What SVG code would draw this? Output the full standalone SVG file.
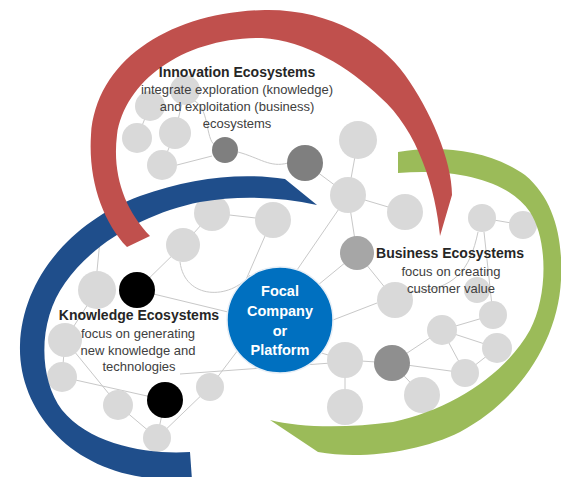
<svg xmlns="http://www.w3.org/2000/svg" width="561" height="477" viewBox="0 0 561 477">
<style>
.ln{fill:none;stroke:#c8c8c8;stroke-width:1}
.lg{fill:#d9d9d9}
.md{fill:#a6a6a6}
.dk{fill:#7f7f7f}
.md2{fill:#8f8f8f}
.bk{fill:#000}
.t{font-family:"Liberation Sans",Arial,sans-serif;text-anchor:middle}
.h{font-size:14px;font-weight:bold;fill:#262626}
.s{font-size:13px;fill:#404040}
.f{font-size:14.5px;font-weight:bold;fill:#fff}
</style>
<rect width="561" height="477" fill="#fff"/>
<g id="connectors">
<line class="ln" x1="150" y1="106" x2="137" y2="138"/>
<line class="ln" x1="185" y1="90" x2="175" y2="133"/>
<line class="ln" x1="175" y1="133" x2="162" y2="165"/>
<path class="ln" d="M192,100 C210,105 205,140 215,145"/>
<line class="ln" x1="177" y1="165" x2="212" y2="156"/>
<path class="ln" d="M238,152 C260,158 270,168 288,163"/>
<line class="ln" x1="305" y1="163" x2="348" y2="195"/>
<line class="ln" x1="358" y1="140" x2="348" y2="195"/>
<line class="ln" x1="348" y1="195" x2="405" y2="212"/>
<line class="ln" x1="348" y1="195" x2="357" y2="253"/>
<line class="ln" x1="343" y1="203" x2="297" y2="270"/>
<line class="ln" x1="273" y1="220" x2="212" y2="213"/>
<line class="ln" x1="212" y1="213" x2="183" y2="245"/>
<line class="ln" x1="265" y1="236" x2="245" y2="282"/>
<path class="ln" d="M180,262 C185,300 230,300 250,275"/>
<line class="ln" x1="183" y1="245" x2="137" y2="290"/>
<line class="ln" x1="137" y1="290" x2="228" y2="312"/>
<line class="ln" x1="97" y1="290" x2="65" y2="340"/>
<line class="ln" x1="97" y1="271" x2="100" y2="240"/>
<line class="ln" x1="65" y1="340" x2="62" y2="377"/>
<line class="ln" x1="65" y1="340" x2="118" y2="405"/>
<line class="ln" x1="62" y1="377" x2="165" y2="400"/>
<line class="ln" x1="118" y1="405" x2="157" y2="438"/>
<line class="ln" x1="165" y1="400" x2="157" y2="438"/>
<line class="ln" x1="157" y1="438" x2="210" y2="387"/>
<line class="ln" x1="210" y1="387" x2="238" y2="350"/>
<line class="ln" x1="180" y1="374" x2="345" y2="362"/>
<line class="ln" x1="357" y1="253" x2="395" y2="300"/>
<line class="ln" x1="357" y1="253" x2="318" y2="285"/>
<line class="ln" x1="333" y1="320" x2="377" y2="303"/>
<path class="ln" d="M410,292 C455,290 470,270 478,232"/>
<line class="ln" x1="482" y1="218" x2="523" y2="225"/>
<line class="ln" x1="484" y1="232" x2="493" y2="315"/>
<line class="ln" x1="442" y1="330" x2="493" y2="315"/>
<line class="ln" x1="442" y1="330" x2="497" y2="348"/>
<line class="ln" x1="442" y1="330" x2="465" y2="373"/>
<line class="ln" x1="465" y1="373" x2="497" y2="348"/>
<line class="ln" x1="392" y1="363" x2="465" y2="373"/>
<line class="ln" x1="345" y1="360" x2="392" y2="363"/>
<line class="ln" x1="345" y1="360" x2="345" y2="407"/>
<line class="ln" x1="392" y1="363" x2="422" y2="395"/>
<line class="ln" x1="392" y1="363" x2="442" y2="330"/>
<line class="ln" x1="318" y1="352" x2="345" y2="360"/>
</g>
<g id="nodes">
<circle class="lg" cx="150" cy="106" r="15"/>
<circle class="lg" cx="185" cy="90" r="15"/>
<circle class="lg" cx="137" cy="138" r="15"/>
<circle class="lg" cx="175" cy="133" r="16"/>
<circle class="lg" cx="162" cy="165" r="15"/>
<circle class="dk" cx="225" cy="150" r="13"/>
<circle class="dk" cx="305" cy="163" r="18"/>
<circle class="lg" cx="358" cy="140" r="19"/>
<circle class="lg" cx="348" cy="195" r="18"/>
<circle class="lg" cx="405" cy="212" r="18"/>
<circle class="lg" cx="212" cy="213" r="18"/>
<circle class="lg" cx="273" cy="220" r="18"/>
<circle class="lg" cx="183" cy="245" r="17"/>
<circle class="lg" cx="97" cy="290" r="19"/>
<circle class="bk" cx="137" cy="290" r="18"/>
<circle class="lg" cx="65" cy="340" r="17"/>
<circle class="lg" cx="62" cy="377" r="15"/>
<circle class="lg" cx="118" cy="405" r="15"/>
<circle class="bk" cx="165" cy="400" r="18"/>
<circle class="lg" cx="210" cy="387" r="14"/>
<circle class="lg" cx="157" cy="438" r="14"/>
<circle class="md" cx="357" cy="253" r="17"/>
<circle class="lg" cx="395" cy="300" r="18"/>
<circle class="lg" cx="482" cy="218" r="14"/>
<circle class="lg" cx="523" cy="225" r="14"/>
<circle class="lg" cx="477" cy="290" r="13"/>
<circle class="lg" cx="493" cy="315" r="14"/>
<circle class="lg" cx="442" cy="330" r="15"/>
<circle class="lg" cx="497" cy="348" r="15"/>
<circle class="lg" cx="465" cy="373" r="14"/>
<circle class="lg" cx="345" cy="360" r="18"/>
<circle class="md2" cx="392" cy="363" r="18"/>
<circle class="lg" cx="422" cy="395" r="18"/>
<circle class="lg" cx="345" cy="407" r="18"/>
</g>
<g id="business-band">
<path fill="#9bbb59" d="M398,152 C440,145 490,150 525,175 C555,200 563,240 561,280 C558,340 520,400 460,432 C420,452 360,460 318,452 L270,420 C300,428 350,428 393,422 C450,410 505,375 530,330 C548,295 548,240 530,212 C510,182 460,168 398,173 Z"/>
</g>
<g id="knowledge-band">
<path fill="#1f4e8b" d="M317,205 L285,179 C240,172 190,178 140,196 C70,222 22,280 20,345 C18,410 70,470 150,478 L192,480 L190,452 C150,455 90,445 62,410 C38,378 38,320 65,283 C95,240 150,212 200,202 C240,195 280,197 317,205 Z"/>
</g>
<g id="innovation-band">
<path fill="#c0504d" d="M127,247 C103,222 88,180 91,135 C96,60 170,12 265,10 C330,9 380,40 405,75 C430,110 452,160 452,195 L440,236 C436,190 418,130 380,97 C350,68 305,40 262,38 C185,37 125,80 117,135 C112,175 125,210 150,236 Z"/>
</g>
<g id="innovation-label">
<text class="t h" x="237" y="77">Innovation Ecosystems</text>
<text class="t s" x="237" y="94">integrate exploration (knowledge)</text>
<text class="t s" x="237" y="111">and exploitation (business)</text>
<text class="t s" x="237" y="128">ecosystems</text>
</g>
<g id="business-label">
<text class="t h" x="450" y="258">Business Ecosystems</text>
<text class="t s" x="451" y="276">focus on creating</text>
<text class="t s" x="451" y="293">customer value</text>
</g>
<g id="knowledge-label">
<text class="t h" x="139" y="320">Knowledge Ecosystems</text>
<text class="t s" x="138" y="338">focus on generating</text>
<text class="t s" x="138" y="355">new knowledge and</text>
<text class="t s" x="139" y="371">technologies</text>
</g>
<g id="focal">
<circle cx="280" cy="320" r="53" fill="#0070c0" stroke="#e6eef6" stroke-width="1.5"/>
<text class="t f" x="280" y="296">Focal</text>
<text class="t f" x="280" y="316">Company</text>
<text class="t f" x="280" y="336">or</text>
<text class="t f" x="280" y="355">Platform</text>
</g>
</svg>
